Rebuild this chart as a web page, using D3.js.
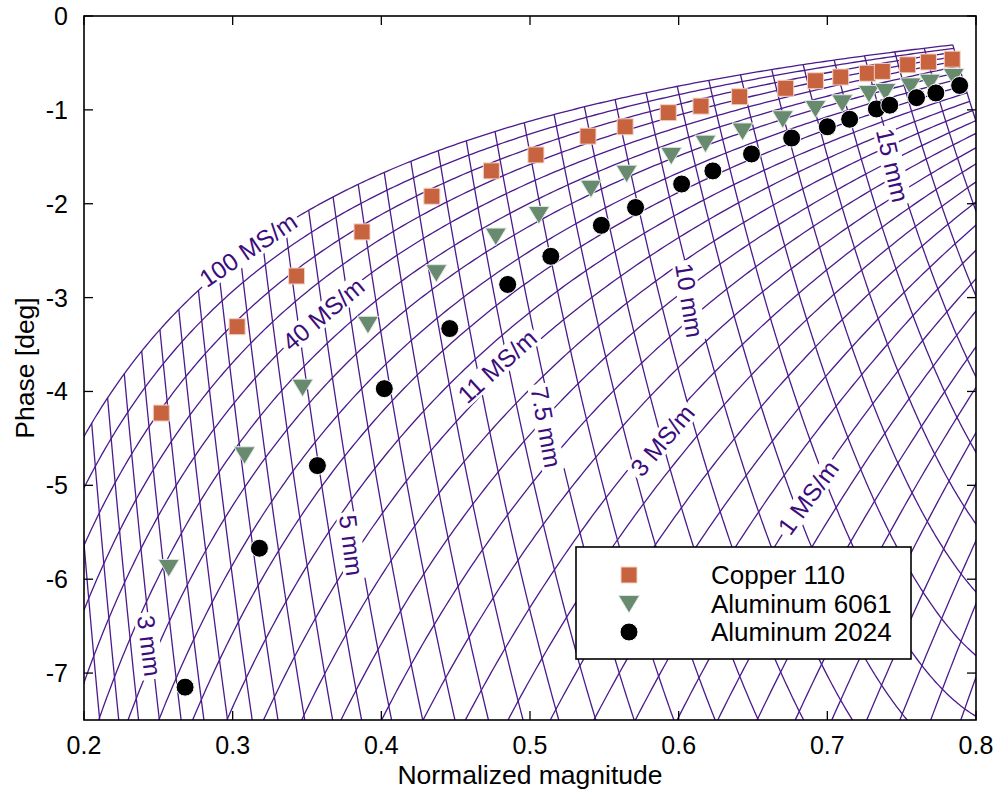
<!DOCTYPE html>
<html><head><meta charset="utf-8">
<script src="https://cdn.jsdelivr.net/npm/d3@7"></script>
<style>
body{margin:0;background:#fff}
text{font-family:"Liberation Sans",Arial,Helvetica,sans-serif}
</style>
</head><body>
<svg id="chart" width="997" height="791"></svg>
<script>
// ---- axis ticks ----
const xTickValues = [0.2, 0.3, 0.4, 0.5, 0.6, 0.7, 0.8];
const xTickLabels = ["0.2", "0.3", "0.4", "0.5", "0.6", "0.7", "0.8"];
const yTickValues = [0, -1, -2, -3, -4, -5, -6, -7];
const yTickLabels = ["0", "-1", "-2", "-3", "-4", "-5", "-6", "-7"];

// ---- measured series ----
const seriesNames = ["Copper 110", "Aluminum 6061", "Aluminum 2024"];
const copperMag   = [0.252,0.303,0.343,0.387,0.434,0.474,0.504,0.539,0.564,0.593,0.615,0.641,0.672,0.692,0.709,0.727,0.737,0.754,0.768,0.784];
const copperPhase = [-4.23,-3.31,-2.77,-2.30,-1.92,-1.65,-1.48,-1.28,-1.18,-1.03,-0.96,-0.86,-0.77,-0.69,-0.65,-0.61,-0.59,-0.52,-0.49,-0.46];
const al6061Mag   = [0.257,0.308,0.347,0.391,0.437,0.477,0.506,0.541,0.565,0.595,0.618,0.643,0.670,0.692,0.710,0.728,0.739,0.756,0.769,0.785];
const al6061Phase = [-5.88,-4.68,-3.96,-3.29,-2.74,-2.35,-2.12,-1.84,-1.68,-1.49,-1.36,-1.23,-1.10,-0.99,-0.93,-0.83,-0.81,-0.75,-0.71,-0.65];
const al2024Mag   = [0.268,0.318,0.357,0.402,0.446,0.485,0.514,0.548,0.571,0.602,0.623,0.649,0.676,0.700,0.715,0.733,0.742,0.760,0.773,0.789];
const al2024Phase = [-7.15,-5.67,-4.79,-3.97,-3.33,-2.86,-2.56,-2.23,-2.04,-1.79,-1.65,-1.47,-1.30,-1.18,-1.10,-0.99,-0.95,-0.87,-0.82,-0.74];

// ---- nomogram grid levels ----
const sigmaLevels = [0.1,0.126,0.158,0.2,0.251,0.316,0.398,0.501,0.631,0.794,
  1,1.26,1.58,2,2.51,3.16,3.98,5.01,6.31,7.94,
  10,12.6,15.8,20,25.1,31.6,39.8,50.1,63.1,79.4,100]; // MS/m
const thicknessLevels = [1,1.059,1.122,1.189,1.259,1.334,1.413,1.496,1.585,1.679,1.778,1.884,1.995,2.113,2.239,2.371,2.512,2.661,2.818,2.985,
  3.162,3.350,3.548,3.758,3.981,4.217,4.467,4.732,5.012,5.309,5.623,5.957,6.310,6.683,7.079,7.499,7.943,8.414,8.913,9.441,
  10,10.59,11.22,11.89,12.59,13.34,14.13,14.96,15.85,16.79,17.78]; // mm
const gridLabelText  = ["100 MS/m", "40 MS/m", "11 MS/m", "3 MS/m", "1 MS/m", "3 mm", "5 mm", "7.5 mm", "10 mm", "15 mm"];
const gridLabelMag   = [0.3103, 0.3608, 0.4778, 0.5890, 0.6870, 0.2440, 0.3800, 0.5110, 0.6073, 0.7440];
const gridLabelPhase = [-2.49, -3.175, -3.73, -4.52, -5.13, -6.71, -5.64, -4.38, -3.03, -1.59];
const gridLabelAngle = [-34, -40, -42, -50, -54, 83, 83, 80, 81, 77];

// nomogram model parameters (fitted to the reference)
const K0 = 0.0863, A_OFF = 0.25, C_PH = 11.2;
function gMag(t, s) { const u = 1 / Math.sqrt(s); return 1 - Math.exp(-(K0 * t + A_OFF * (u - 0.1))); }
function gPhase(t, s) { const u = 1 / Math.sqrt(s); const m = gMag(t, s); return -C_PH * u * (1 - m) / m; }

// ---- layout ----
const W = 997, H = 791;
const margin = {left: 84, right: 21, top: 16, bottom: 71};
const svg = d3.select("#chart");
const x = d3.scaleLinear().domain([0.2, 0.8]).range([margin.left, W - margin.right]);
const y = d3.scaleLinear().domain([-7.5, 0]).range([H - margin.bottom, margin.top]);
const gridColor = "#4b1a8c", labelColor = "#3d0c7c";

svg.append("defs").append("clipPath").attr("id", "clip")
  .append("rect").attr("x", x(0.2)).attr("y", y(0)).attr("width", x(0.8) - x(0.2)).attr("height", y(-7.5) - y(0));

const gridG = svg.append("g").attr("clip-path", "url(#clip)");
const line = d3.line().x(d => x(d[0])).y(d => y(d[1]));

// constant-conductivity curves
const tMin = 0.8, tMax = thicknessLevels[thicknessLevels.length - 1];
sigmaLevels.forEach(s => {
  const pts = d3.range(0, 401).map(i => {
    const t = tMin * Math.pow(tMax / tMin, i / 400);
    return [gMag(t, s), Math.max(-40, gPhase(t, s))];
  });
  gridG.append("path").attr("d", line(pts)).attr("fill", "none")
    .attr("stroke", gridColor).attr("stroke-width", 1.3);
});
// constant-thickness curves
const sMin = sigmaLevels[0], sMax = sigmaLevels[sigmaLevels.length - 1];
thicknessLevels.forEach(t => {
  const pts = d3.range(0, 401).map(i => {
    const s = sMin * Math.pow(sMax / sMin, i / 400);
    return [gMag(t, s), Math.max(-40, gPhase(t, s))];
  });
  gridG.append("path").attr("d", line(pts)).attr("fill", "none")
    .attr("stroke", gridColor).attr("stroke-width", 1.3);
});

// grid labels with white background
gridLabelText.forEach((txt, i) => {
  const g = svg.append("g")
    .attr("transform", `translate(${x(gridLabelMag[i])},${y(gridLabelPhase[i])}) rotate(${gridLabelAngle[i]})`);
  const bg = g.append("rect").attr("fill", "#fff");
  const tEl = g.append("text").text(txt).attr("text-anchor", "middle").attr("dy", "0.36em")
    .attr("font-size", 24.5).attr("fill", labelColor);
  const bb = tEl.node().getBBox();
  bg.attr("x", bb.x - 3).attr("y", bb.y + 2).attr("width", bb.width + 6).attr("height", bb.height - 4);
});

// ---- markers ----
function drawSquare(g, cx, cy) {
  g.append("rect").attr("x", cx - 8).attr("y", cy - 8).attr("width", 16).attr("height", 16)
    .attr("fill", "#c8633f").attr("stroke", "#f3d3c6").attr("stroke-width", 1);
}
function drawTri(g, cx, cy) {
  g.append("path").attr("d", `M${cx - 10.5},${cy - 8.5}L${cx + 10.5},${cy - 8.5}L${cx},${cy + 9}Z`)
    .attr("fill", "#688a6f").attr("stroke", "#dfe8e0").attr("stroke-width", 1);
}
function drawCirc(g, cx, cy) {
  g.append("circle").attr("cx", cx).attr("cy", cy).attr("r", 9)
    .attr("fill", "#000").attr("stroke", "#fff").attr("stroke-width", 1);
}
const markG = svg.append("g");
copperMag.forEach((m, i) => drawSquare(markG, x(m), y(copperPhase[i])));
al6061Mag.forEach((m, i) => drawTri(markG, x(m), y(al6061Phase[i])));
al2024Mag.forEach((m, i) => drawCirc(markG, x(m), y(al2024Phase[i])));

// ---- axes frame & ticks ----
const axG = svg.append("g");
axG.append("rect").attr("x", x(0.2)).attr("y", y(0)).attr("width", x(0.8) - x(0.2)).attr("height", y(-7.5) - y(0))
  .attr("fill", "none").attr("stroke", "#000").attr("stroke-width", 1.6);
const tl = 9;
xTickValues.forEach((v, i) => {
  axG.append("line").attr("x1", x(v)).attr("x2", x(v)).attr("y1", y(-7.5)).attr("y2", y(-7.5) - tl).attr("stroke", "#000").attr("stroke-width", 1.3);
  axG.append("line").attr("x1", x(v)).attr("x2", x(v)).attr("y1", y(0)).attr("y2", y(0) + tl).attr("stroke", "#000").attr("stroke-width", 1.3);
  axG.append("text").attr("x", x(v)).attr("y", y(-7.5) + 34).attr("text-anchor", "middle")
    .attr("font-size", 25).text(xTickLabels[i]);
});
yTickValues.forEach((v, i) => {
  axG.append("line").attr("x1", x(0.2)).attr("x2", x(0.2) + tl).attr("y1", y(v)).attr("y2", y(v)).attr("stroke", "#000").attr("stroke-width", 1.3);
  axG.append("line").attr("x1", x(0.8)).attr("x2", x(0.8) - tl).attr("y1", y(v)).attr("y2", y(v)).attr("stroke", "#000").attr("stroke-width", 1.3);
  axG.append("text").attr("x", x(0.2) - 16).attr("y", y(v)).attr("dy", "0.36em").attr("text-anchor", "end")
    .attr("font-size", 25).text(yTickLabels[i]);
});
svg.append("text").attr("x", (x(0.2) + x(0.8)) / 2).attr("y", 784).attr("text-anchor", "middle")
  .attr("font-size", 26.5).text("Normalized magnitude");
svg.append("text").attr("transform", `translate(34,${(y(0) + y(-7.5)) / 2}) rotate(-90)`).attr("text-anchor", "middle")
  .attr("font-size", 26.5).text("Phase [deg]");

// ---- legend ----
const lg = svg.append("g");
lg.append("rect").attr("x", 576).attr("y", 547).attr("width", 335).attr("height", 112)
  .attr("fill", "#fff").attr("stroke", "#000").attr("stroke-width", 1.6);
const legY = [575, 604, 632];
drawSquare(lg, 629, legY[0]);
drawTri(lg, 629, legY[1]);
drawCirc(lg, 629, legY[2]);
seriesNames.forEach((n, i) => {
  lg.append("text").attr("x", 711).attr("y", legY[i]).attr("dy", "0.36em").attr("font-size", 26).text(n);
});
</script>
</body></html>
